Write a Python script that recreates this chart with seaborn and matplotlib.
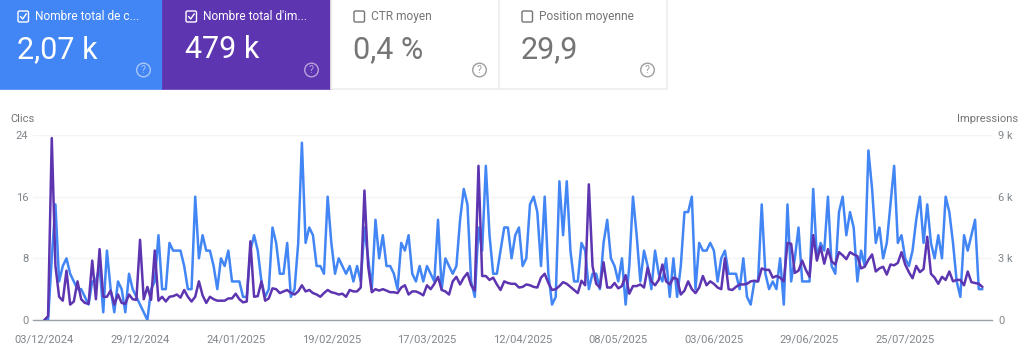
import matplotlib
matplotlib.use('Agg')
import matplotlib.pyplot as plt
import pandas as pd
import seaborn as sns
from matplotlib.patches import Rectangle, FancyBboxPatch, Circle

card_titles = ['Nombre total de c...', "Nombre total d'im...", 'CTR moyen', 'Position moyenne']
card_values = ['2,07 k', '479 k', '0,4 %', '29,9']
card_active = [True, True, False, False]

tick_labels = ['03/12/2024', '29/12/2024', '24/01/2025', '19/02/2025', '17/03/2025',
               '12/04/2025', '08/05/2025', '03/06/2025', '29/06/2025', '25/07/2025']
clicks_ticks = [0, 8, 16, 24]
impr_ticks = [0, 3000, 6000, 9000]
impr_tick_labels = ['0', '3 k', '6 k', '9 k']

clicks = [0, 0, 8, 15, 5, 7, 8, 6, 5, 4,
          4, 3, 2, 5, 5, 7, 1, 9, 4, 1,
          5, 4, 1, 6, 4, 3, 2, 1, 0, 4,
          5, 11, 4, 4, 10, 9, 9, 9, 7, 4,
          4, 16, 8, 11, 9, 9, 7, 4, 8, 7,
          9, 5, 5, 5, 3, 3, 9, 11, 9, 5,
          3, 4, 12, 10, 6, 6, 10, 3, 4, 10,
          23, 10, 12, 11, 7, 7, 6, 16, 10, 6,
          8, 7, 6, 7, 5, 7, 5, 12, 8, 4,
          13, 8, 11, 7, 7, 6, 4, 10, 9, 11,
          6, 5, 7, 5, 7, 6, 5, 13, 4, 8,
          7, 6, 7, 13, 17, 15, 5, 3, 12, 9,
          20, 11, 6, 6, 9, 12, 12, 8, 11, 12,
          7, 8, 15, 16, 14, 7, 16, 6, 2, 3,
          18, 11, 18, 9, 5, 5, 10, 9, 4, 6,
          6, 4, 10, 13, 8, 7, 5, 8, 2, 7,
          16, 11, 5, 9, 7, 4, 9, 6, 5, 8,
          3, 8, 3, 7, 14, 14, 16, 4, 10, 9,
          9, 10, 9, 5, 8, 9, 6, 6, 6, 4,
          8, 3, 2, 5, 5, 15, 6, 4, 5, 4,
          8, 2, 15, 5, 8, 12, 5, 5, 5, 17,
          8, 10, 9, 16, 7, 6, 14, 16, 11, 14,
          12, 5, 9, 7, 22, 17, 10, 12, 8, 10,
          15, 20, 10, 11, 8, 7, 9, 13, 16, 10,
          15, 10, 8, 11, 8, 16, 14, 10, 5, 3,
          11, 9, 11, 13, 4, 4]

impressions = [0, 190, 8850, 2630, 1130, 940, 2400, 750, 900, 1880,
               1010, 830, 790, 2890, 1010, 3450, 1130, 1130, 1430, 750,
               1240, 830, 790, 1240, 1010, 980, 3900, 1010, 1610, 980,
               3380, 940, 1130, 900, 1130, 1160, 1240, 1090, 1460, 1130,
               900, 1130, 1880, 1200, 830, 1130, 1010, 940, 940, 940,
               1050, 1050, 1280, 1010, 860, 900, 3830, 1130, 1160, 1880,
               940, 1050, 1540, 1500, 1310, 1390, 1460, 1310, 1240, 1390,
               1690, 1390, 1460, 1310, 1240, 1130, 1310, 1460, 1350, 1310,
               1240, 1280, 1130, 1460, 1390, 1390, 1580, 6300, 2630, 1350,
               1500, 1430, 1500, 1430, 1350, 1350, 1310, 1580, 1690, 1240,
               1390, 1390, 1310, 1200, 1690, 1500, 1760, 2100, 1460, 1390,
               1240, 1880, 2100, 1730, 2060, 2290, 1690, 1430, 7500, 2140,
               2140, 1950, 2060, 1730, 1460, 1880, 1800, 1760, 1760, 1580,
               1610, 1730, 1690, 1610, 1580, 2060, 2250, 1800, 1460, 1500,
               1650, 1840, 1760, 1610, 1460, 1310, 1910, 1690, 6600, 2630,
               1760, 1580, 2810, 1580, 1580, 1800, 1540, 1650, 2180, 1280,
               1650, 1650, 1730, 1580, 2550, 1880, 1690, 1950, 2700, 1880,
               1730, 2060, 1990, 1240, 1430, 1880, 1500, 1310, 1580, 2140,
               1690, 1880, 1760, 1580, 1500, 3000, 1500, 1460, 1610, 1730,
               1730, 1760, 1880, 1910, 1880, 2510, 2440, 2440, 2060, 2140,
               2060, 1880, 3750, 3710, 2290, 2400, 2890, 2440, 2100, 4130,
               2890, 3560, 2740, 3450, 2850, 2700, 3300, 3150, 2960, 3300,
               3190, 3110, 2510, 2590, 2930, 3190, 2360, 2510, 2590, 2210,
               2700, 2660, 2780, 3300, 2700, 2330, 2030, 2630, 2330, 2480,
               4050, 2250, 2060, 1760, 2100, 1950, 2360, 1880, 1950, 1950,
               1690, 2360, 1840, 1800, 1760, 1610]

BLUE = '#4285f4'
PURPLE = '#5e35b1'
GRAY = '#80868b'

sns.set_theme(style='white')
plt.rcParams['font.family'] = ['Roboto', 'DejaVu Sans']

dates = pd.date_range('2024-12-03', periods=len(clicks))
tick_dates = pd.to_datetime(tick_labels, dayfirst=True)

fig = plt.figure(figsize=(10.24, 3.58), dpi=100)

# cards on top, in pixel coordinates
top = fig.add_axes([0, 0, 1, 1])
top.set_xlim(0, 1024)
top.set_ylim(358, 0)
top.axis('off')
card_fill = [BLUE, PURPLE, 'white', 'white']
for i in range(4):
    x0 = 168 * i - 5
    active = card_active[i]
    top.add_patch(Rectangle((x0, -2), 168, 91, fc=card_fill[i], ec='#eeeeee' if not active else card_fill[i], lw=1.2))
    fg = 'white' if active else '#757575'
    top.text(x0 + 40, 16.5, card_titles[i], color=fg, fontsize=8.6, va='center', ha='left')
    top.text(x0 + 22, 50, card_values[i], color=fg, fontsize=22, va='center', ha='left')
    top.add_patch(FancyBboxPatch((x0 + 23, 11), 10.5, 11, boxstyle='round,pad=0,rounding_size=1.5',
                                 fc='none', ec=fg, lw=1))
    if active:
        top.plot([x0 + 25.5, x0 + 27.7, x0 + 31.3], [16.5, 19, 13.8], color='white', lw=1)
    help_col = '#ffffff' if active else '#9e9e9e'
    a = 0.55 if active else 1
    top.add_patch(Circle((x0 + 148.5, 70), 6.8, fc='none', ec=help_col, lw=1, alpha=a))
    top.text(x0 + 148.5, 70.3, '?', color=help_col, alpha=a, fontsize=7.5, ha='center', va='center')

ax = fig.add_axes([33 / 1024, 38 / 358, 959 / 1024, 185 / 358])
ax2 = ax.twinx()
ax.patch.set_alpha(0)
ax2.patch.set_alpha(0)

sns.lineplot(x=dates, y=clicks, ax=ax, color=BLUE, lw=1.8, zorder=3)
sns.lineplot(x=dates, y=impressions, ax=ax2, color=PURPLE, lw=1.8, zorder=3)

ax.set_xlim(dates[0] - pd.Timedelta(days=3.1), dates[-1] + pd.Timedelta(days=2.6))
ax.set_ylim(0, 24)
ax2.set_ylim(0, 9000)
ax.set_xlabel('')
ax2.set_xlabel('')
ax.set_ylabel('')
ax2.set_ylabel('')

ax.set_xticks(tick_dates)
ax.set_xticklabels(tick_labels)
ax.set_yticks(clicks_ticks)
ax.set_yticklabels([str(v) for v in clicks_ticks])
ax2.set_yticks(impr_ticks)
ax2.set_yticklabels(impr_tick_labels, ha='left')

ax.grid(axis='y', color='#f1f3f4', lw=1)
ax.set_axisbelow(True)
ax.tick_params(axis='x', length=0, pad=10.5, labelsize=8, labelcolor=GRAY)
ax.tick_params(axis='y', length=0, pad=3.5, labelsize=8, labelcolor=GRAY)
ax2.tick_params(axis='y', length=0, pad=4.3, labelsize=8, labelcolor=GRAY)

for a_ in [ax, ax2]:
    for s in ['top', 'left', 'right']:
        a_.spines[s].set_visible(False)
ax.spines['bottom'].set_color('#9aa0a6')
ax.spines['bottom'].set_linewidth(1)
ax2.spines['bottom'].set_visible(False)

top.text(10, 118.5, 'Clics', color='#757575', fontsize=8, va='center', ha='left')
top.text(1018, 119, 'Impressions', color='#757575', fontsize=8, va='center', ha='right')

plt.savefig('out.png', dpi=100)
